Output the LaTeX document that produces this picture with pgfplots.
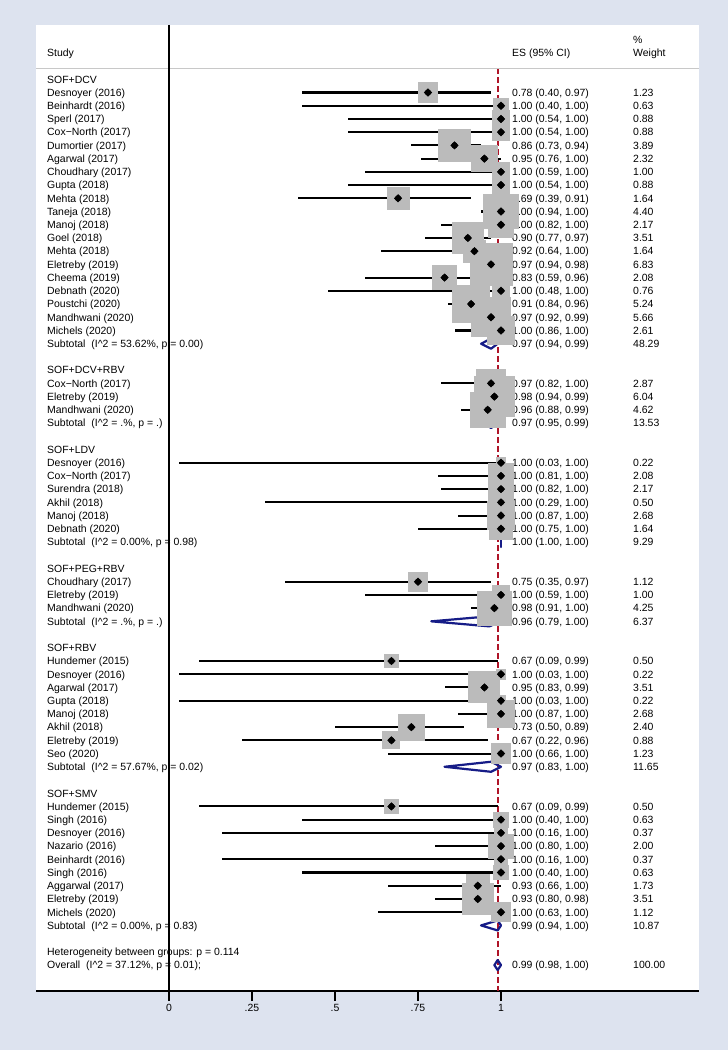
\documentclass[border=0pt]{standalone}
\usepackage{pgfplots}
\pgfplotsset{compat=1.18}
\usepackage{pgfplotstable}
\usepackage{fontspec}
\setmainfont{Liberation Sans}
\definecolor{bgc}{RGB}{221,227,239}
\definecolor{boxg}{RGB}{187,187,187}
\definecolor{dnavy}{RGB}{22,28,135}
\definecolor{cranb}{RGB}{175,20,40}
\definecolor{hlinec}{RGB}{200,200,200}

\pgfplotstableread{
row es lo hi w
1 0.78 0.40 0.97 1.23
2 1.00 0.40 1.00 0.63
3 1.00 0.54 1.00 0.88
4 1.00 0.54 1.00 0.88
5 0.86 0.73 0.94 3.89
6 0.95 0.76 1.00 2.32
7 1.00 0.59 1.00 1.00
8 1.00 0.54 1.00 0.88
9 0.69 0.39 0.91 1.64
10 1.00 0.94 1.00 4.40
11 1.00 0.82 1.00 2.17
12 0.90 0.77 0.97 3.51
13 0.92 0.64 1.00 1.64
14 0.97 0.94 0.98 6.83
15 0.83 0.59 0.96 2.08
16 1.00 0.48 1.00 0.76
17 0.91 0.84 0.96 5.24
18 0.97 0.92 0.99 5.66
19 1.00 0.86 1.00 2.61
23 0.97 0.82 1.00 2.87
24 0.98 0.94 0.99 6.04
25 0.96 0.88 0.99 4.62
29 1.00 0.03 1.00 0.22
30 1.00 0.81 1.00 2.08
31 1.00 0.82 1.00 2.17
32 1.00 0.29 1.00 0.50
33 1.00 0.87 1.00 2.68
34 1.00 0.75 1.00 1.64
38 0.75 0.35 0.97 1.12
39 1.00 0.59 1.00 1.00
40 0.98 0.91 1.00 4.25
44 0.67 0.09 0.99 0.50
45 1.00 0.03 1.00 0.22
46 0.95 0.83 0.99 3.51
47 1.00 0.03 1.00 0.22
48 1.00 0.87 1.00 2.68
49 0.73 0.50 0.89 2.40
50 0.67 0.22 0.96 0.88
51 1.00 0.66 1.00 1.23
55 0.67 0.09 0.99 0.50
56 1.00 0.40 1.00 0.63
57 1.00 0.16 1.00 0.37
58 1.00 0.80 1.00 2.00
59 1.00 0.16 1.00 0.37
60 1.00 0.40 1.00 0.63
61 0.93 0.66 1.00 1.73
62 0.93 0.80 0.98 3.51
63 1.00 0.63 1.00 1.12
}\studies

\newcommand{\lab}[2]{\node[anchor=base west,inner sep=0pt,yshift=-3.8bp] at (axis cs:-0.3675,-#1) {#2};}
\newcommand{\srow}[4]{\lab{#1}{#2}%
\node[anchor=base west,inner sep=0pt,yshift=-3.8bp] at (axis cs:1.0331,-#1) {#3};%
\node[anchor=base west,inner sep=0pt,yshift=-3.8bp] at (axis cs:1.3976,-#1) {#4};}

\begin{document}
\begin{tikzpicture}[font=\fontsize{10.5}{12.6}\selectfont]
\fill[bgc] (0,0) rectangle (728bp,1050bp);
\begin{axis}[
  at={(36bp,59bp)}, anchor=south west,
  scale only axis, width=663bp, height=966bp,
  xmin=-0.4006, xmax=1.5964,
  ymin=-68.96, ymax=4.107,
  axis x line*=bottom, axis y line=none,
  xtick={0,0.25,0.5,0.75,1}, xticklabels={0,.25,.5,.75,1},
  ytick=\empty,
  xtick align=outside,
  major tick length=10bp,
  every tick/.style={black, line width=1.6bp},
  axis line style={black, line width=1.6bp},
  xticklabel style={font=\fontsize{10.5}{12.6}\selectfont},
  /pgf/number format/assume math mode=true,
  axis background/.style={fill=white},
  clip=false,
]
% reference line at overall estimate
\addplot[cranb, line width=1.8bp, dash pattern=on 5.5bp off 3.5bp] coordinates {(0.99,0.82) (0.99,-68.96)};
% weight boxes
\addplot[scatter, only marks, mark=square*,
  scatter/use mapped color={draw=boxg, fill=boxg},
  mark options={line width=0pt},
  visualization depends on={7.5*sqrt(\thisrow{w})+1.5 \as \msz},
  scatter/@pre marker code/.append style={/tikz/mark size=\msz}]
  table[x=es, y expr=-\thisrow{row}] {\studies};
% confidence intervals
\addplot[black, line width=2.1bp, only marks, mark=none,
  error bars/.cd, x dir=both, x explicit, error mark=none,
  error bar style={line width=2.1bp, black}]
  table[x=es, y expr=-\thisrow{row},
        x error plus expr=\thisrow{hi}-\thisrow{es},
        x error minus expr=\thisrow{es}-\thisrow{lo}] {\studies};
% point estimates
\addplot[only marks, mark=diamond*, mark size=3.8bp,
  mark options={fill=black, draw=none, xscale=1.33}]
  table[x=es, y expr=-\thisrow{row}] {\studies};
% subtotal and overall diamonds
\addplot[dnavy, line width=2.2bp, line join=round] coordinates {(0.94,-20) (0.97,-19.62) (0.99,-20) (0.97,-20.38)} -- cycle;
\addplot[dnavy, line width=2.2bp, line join=round] coordinates {(0.95,-26) (0.97,-25.62) (0.99,-26) (0.97,-26.38)} -- cycle;
\addplot[dnavy, line width=2.2bp, line join=round] coordinates {(1.00,-35) (1.00,-34.62) (1.00,-35) (1.00,-35.38)} -- cycle;
\addplot[dnavy, line width=2.2bp, line join=round] coordinates {(0.79,-41) (0.965,-40.62) (1.00,-41) (0.965,-41.38)} -- cycle;
\addplot[dnavy, line width=2.2bp, line join=round] coordinates {(0.83,-52) (0.97,-51.62) (1.00,-52) (0.97,-52.38)} -- cycle;
\addplot[dnavy, line width=2.2bp, line join=round] coordinates {(0.94,-64) (0.99,-63.62) (1.00,-64) (0.99,-64.38)} -- cycle;
\addplot[dnavy, line width=2.2bp, line join=round] coordinates {(0.98,-67) (0.99,-66.62) (1.00,-67) (0.99,-67.38)} -- cycle;
% header
\draw[hlinec, line width=1.3bp] (axis cs:-0.4006,0.82) -- (axis cs:1.5964,0.82);
\node[anchor=base west,inner sep=0pt,yshift=-3.8bp] at (axis cs:-0.3675,1.99) {Study};
\node[anchor=base west,inner sep=0pt,yshift=-3.8bp] at (axis cs:1.0331,1.99) {ES (95\% CI)};
\node[anchor=base west,inner sep=0pt,yshift=-3.8bp] at (axis cs:1.3976,2.97) {\%};
\node[anchor=base west,inner sep=0pt,yshift=-3.8bp] at (axis cs:1.3976,1.99) {Weight};
% rows
\lab{0}{SOF+DCV}
\srow{1}{Desnoyer (2016)}{0.78 (0.40, 0.97)}{1.23}
\srow{2}{Beinhardt (2016)}{1.00 (0.40, 1.00)}{0.63}
\srow{3}{Sperl (2017)}{1.00 (0.54, 1.00)}{0.88}
\srow{4}{Cox−North (2017)}{1.00 (0.54, 1.00)}{0.88}
\srow{5}{Dumortier (2017)}{0.86 (0.73, 0.94)}{3.89}
\srow{6}{Agarwal (2017)}{0.95 (0.76, 1.00)}{2.32}
\srow{7}{Choudhary (2017)}{1.00 (0.59, 1.00)}{1.00}
\srow{8}{Gupta (2018)}{1.00 (0.54, 1.00)}{0.88}
\srow{9}{Mehta (2018)}{0.69 (0.39, 0.91)}{1.64}
\srow{10}{Taneja (2018)}{1.00 (0.94, 1.00)}{4.40}
\srow{11}{Manoj (2018)}{1.00 (0.82, 1.00)}{2.17}
\srow{12}{Goel (2018)}{0.90 (0.77, 0.97)}{3.51}
\srow{13}{Mehta (2018)}{0.92 (0.64, 1.00)}{1.64}
\srow{14}{Eletreby (2019)}{0.97 (0.94, 0.98)}{6.83}
\srow{15}{Cheema (2019)}{0.83 (0.59, 0.96)}{2.08}
\srow{16}{Debnath (2020)}{1.00 (0.48, 1.00)}{0.76}
\srow{17}{Poustchi (2020)}{0.91 (0.84, 0.96)}{5.24}
\srow{18}{Mandhwani (2020)}{0.97 (0.92, 0.99)}{5.66}
\srow{19}{Michels (2020)}{1.00 (0.86, 1.00)}{2.61}
\srow{20}{Subtotal\ \ (I\textasciicircum 2 = 53.62\%, p = 0.00)}{0.97 (0.94, 0.99)}{48.29}
\lab{22}{SOF+DCV+RBV}
\srow{23}{Cox−North (2017)}{0.97 (0.82, 1.00)}{2.87}
\srow{24}{Eletreby (2019)}{0.98 (0.94, 0.99)}{6.04}
\srow{25}{Mandhwani (2020)}{0.96 (0.88, 0.99)}{4.62}
\srow{26}{Subtotal\ \ (I\textasciicircum 2 = .\%, p = .)}{0.97 (0.95, 0.99)}{13.53}
\lab{28}{SOF+LDV}
\srow{29}{Desnoyer (2016)}{1.00 (0.03, 1.00)}{0.22}
\srow{30}{Cox−North (2017)}{1.00 (0.81, 1.00)}{2.08}
\srow{31}{Surendra (2018)}{1.00 (0.82, 1.00)}{2.17}
\srow{32}{Akhil (2018)}{1.00 (0.29, 1.00)}{0.50}
\srow{33}{Manoj (2018)}{1.00 (0.87, 1.00)}{2.68}
\srow{34}{Debnath (2020)}{1.00 (0.75, 1.00)}{1.64}
\srow{35}{Subtotal\ \ (I\textasciicircum 2 = 0.00\%, p = 0.98)}{1.00 (1.00, 1.00)}{9.29}
\lab{37}{SOF+PEG+RBV}
\srow{38}{Choudhary (2017)}{0.75 (0.35, 0.97)}{1.12}
\srow{39}{Eletreby (2019)}{1.00 (0.59, 1.00)}{1.00}
\srow{40}{Mandhwani (2020)}{0.98 (0.91, 1.00)}{4.25}
\srow{41}{Subtotal\ \ (I\textasciicircum 2 = .\%, p = .)}{0.96 (0.79, 1.00)}{6.37}
\lab{43}{SOF+RBV}
\srow{44}{Hundemer (2015)}{0.67 (0.09, 0.99)}{0.50}
\srow{45}{Desnoyer (2016)}{1.00 (0.03, 1.00)}{0.22}
\srow{46}{Agarwal (2017)}{0.95 (0.83, 0.99)}{3.51}
\srow{47}{Gupta (2018)}{1.00 (0.03, 1.00)}{0.22}
\srow{48}{Manoj (2018)}{1.00 (0.87, 1.00)}{2.68}
\srow{49}{Akhil (2018)}{0.73 (0.50, 0.89)}{2.40}
\srow{50}{Eletreby (2019)}{0.67 (0.22, 0.96)}{0.88}
\srow{51}{Seo (2020)}{1.00 (0.66, 1.00)}{1.23}
\srow{52}{Subtotal\ \ (I\textasciicircum 2 = 57.67\%, p = 0.02)}{0.97 (0.83, 1.00)}{11.65}
\lab{54}{SOF+SMV}
\srow{55}{Hundemer (2015)}{0.67 (0.09, 0.99)}{0.50}
\srow{56}{Singh (2016)}{1.00 (0.40, 1.00)}{0.63}
\srow{57}{Desnoyer (2016)}{1.00 (0.16, 1.00)}{0.37}
\srow{58}{Nazario (2016)}{1.00 (0.80, 1.00)}{2.00}
\srow{59}{Beinhardt (2016)}{1.00 (0.16, 1.00)}{0.37}
\srow{60}{Singh (2016)}{1.00 (0.40, 1.00)}{0.63}
\srow{61}{Aggarwal (2017)}{0.93 (0.66, 1.00)}{1.73}
\srow{62}{Eletreby (2019)}{0.93 (0.80, 0.98)}{3.51}
\srow{63}{Michels (2020)}{1.00 (0.63, 1.00)}{1.12}
\srow{64}{Subtotal\ \ (I\textasciicircum 2 = 0.00\%, p = 0.83)}{0.99 (0.94, 1.00)}{10.87}
\lab{66}{Heterogeneity between groups: p = 0.114}
\srow{67}{Overall\ \ (I\textasciicircum 2 = 37.12\%, p = 0.01);}{0.99 (0.98, 1.00)}{100.00}
% vertical line at zero
\addplot[black, line width=1.6bp] coordinates {(0,4.107) (0,-68.96)};
\end{axis}
\end{tikzpicture}
\end{document}
